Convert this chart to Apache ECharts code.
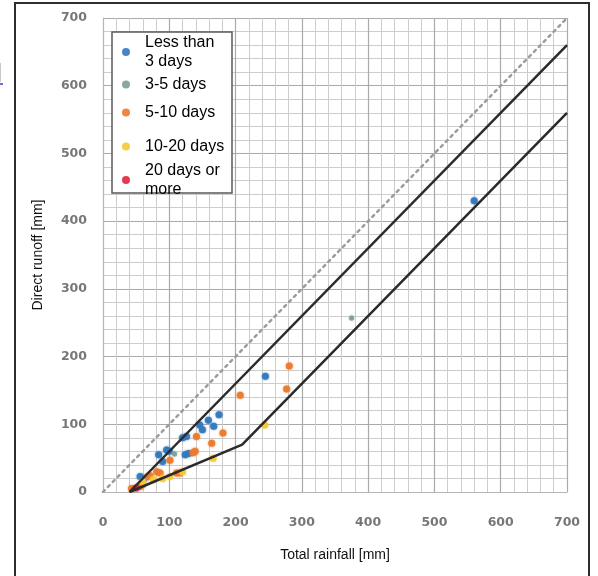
<!DOCTYPE html>
<html>
<head>
<meta charset="utf-8">
<script src="https://cdn.jsdelivr.net/npm/echarts@6/dist/echarts.min.js"></script>
<style>
  html, body { margin: 0; padding: 0; background: #fff; }
  #chart { width: 598px; height: 576px; }
</style>
</head>
<body>
<div id="chart"></div>
<script>
// Rainfall vs. direct runoff, grouped by antecedent dry period
const axisTicks = [0, 100, 200, 300, 400, 500, 600, 700];

const seriesNames = ['Less than\n3 days', '3-5 days', '5-10 days', '10-20 days', '20 days or\nmore'];

// [total rainfall mm, direct runoff mm]
const lessThan3 = [
  [56, 23], [62, 20], [84, 55], [90, 45], [96, 62], [100, 60], [120, 80], [124, 55],
  [129, 57], [126, 82], [146, 99], [150, 92], [159, 106], [167, 97], [175, 114],
  [245, 171], [560, 430]
];
const days3to5 = [[375, 257], [108, 56]];
const days5to10 = [
  [43, 5], [56, 8], [60, 11], [68, 23], [71, 24], [81, 30], [86, 28], [101, 47],
  [111, 28], [116, 28], [136, 58], [139, 60], [141, 82], [164, 72], [181, 87],
  [207, 143], [277, 152], [281, 186]
];
const days10to20 = [[60, 15], [76, 18], [90, 20], [101, 23], [120, 30], [166, 50], [244, 99]];
const days20plus = [[50, 6]];

// Reference lines
const lineEqual = [[0, 0], [700, 700]];
const lineUpper = [[40, 0], [700, 660]];
const lineLower = [[40, 0], [210, 70], [700, 560]];

const colors = ['#3479bd', '#7e9f95', '#ec7a2e', '#f6c935', '#e2243d'];
const sizes = [7, 5, 7, 7, 7];
const pointSets = [lessThan3, days3to5, days5to10, days10to20, days20plus];

const chart = echarts.init(document.getElementById('chart'), null, { renderer: 'canvas' });

const tickFont = { color: '#777', fontFamily: 'DejaVu Sans', fontWeight: 'bold', fontSize: 12.5 };
const nameFont = { color: '#111', fontFamily: 'Liberation Sans', fontSize: 14 };

function valueAxis(extra) {
  return Object.assign({
    type: 'value',
    min: axisTicks[0],
    max: axisTicks[axisTicks.length - 1],
    interval: axisTicks[1] - axisTicks[0],
    axisLine: { show: true, lineStyle: { color: '#b5b5b5', width: 1 } },
    axisTick: { show: false },
    splitLine: { show: true, lineStyle: { color: '#aaaaaa', width: 1.2 } },
    minorTick: { show: false, splitNumber: 5 },
    minorSplitLine: { show: true, lineStyle: { color: '#cdcdcd', width: 1 } },
    nameLocation: 'middle',
    nameTextStyle: nameFont
  }, extra);
}

const scatterSeries = seriesNames.map((name, i) => ({
  name: name,
  type: 'scatter',
  data: pointSets[i],
  symbol: 'circle',
  symbolSize: sizes[i],
  z: 3,
  itemStyle: { color: colors[i], opacity: 0.9, shadowBlur: 2, shadowColor: colors[i] }
}));

function refLine(data, style) {
  return {
    type: 'line',
    data: data,
    symbol: 'none',
    silent: true,
    z: 4,
    lineStyle: style
  };
}

// One legend block per entry so the rows keep their spacing
const legendTops = [33, 75, 103, 137, 161];
const legends = seriesNames.map((name, i) => ({
  data: [{ name: name, icon: 'circle' }],
  orient: 'vertical',
  left: 122,
  top: legendTops[i],
  padding: 0,
  itemWidth: 8,
  itemHeight: 8,
  selectedMode: false,
  textStyle: {
    color: '#000',
    fontFamily: 'Liberation Sans',
    fontSize: 16,
    lineHeight: 19,
    padding: [0, 0, 0, 10]
  }
}));

chart.setOption({
  animation: false,
  backgroundColor: '#fff',
  grid: { left: 103, right: 31, top: 18, bottom: 84, containLabel: false },
  xAxis: valueAxis({
    name: 'Total rainfall [mm]',
    nameGap: 56,
    axisLabel: Object.assign({ margin: 24 }, tickFont)
  }),
  yAxis: valueAxis({
    name: 'Direct runoff [mm]',
    nameGap: 58,
    axisLabel: Object.assign({ margin: 16 }, tickFont)
  }),
  legend: legends,
  graphic: [
    {
      type: 'rect',
      z: 100,
      shape: { x: 15, y: 3, width: 574, height: 580 },
      style: { fill: 'none', stroke: '#2d2d2d', lineWidth: 2 },
      silent: true
    },
    {
      type: 'rect',
      z: 3,
      shape: { x: 112, y: 32, width: 120, height: 161 },
      style: { fill: '#fff', stroke: '#5a5a5a', lineWidth: 1.5 },
      silent: true
    },
    {
      type: 'line',
      shape: { x1: 0.5, y1: 63, x2: 0.5, y2: 82 },
      style: { stroke: '#c8c8c8', lineWidth: 1 },
      silent: true
    },
    {
      type: 'line',
      shape: { x1: 0, y1: 84, x2: 3, y2: 84 },
      style: { stroke: '#3a3ad0', lineWidth: 1.5 },
      silent: true
    }
  ],
  series: [
    refLine(lineEqual, { color: '#9c9c9c', width: 2.5, type: [2.5, 4.5], cap: 'round' }),
    refLine(lineUpper, { color: '#2b2b2b', width: 2.5 }),
    refLine(lineLower, { color: '#2b2b2b', width: 2.5 })
  ].concat(scatterSeries)
});
</script>
</body>
</html>
